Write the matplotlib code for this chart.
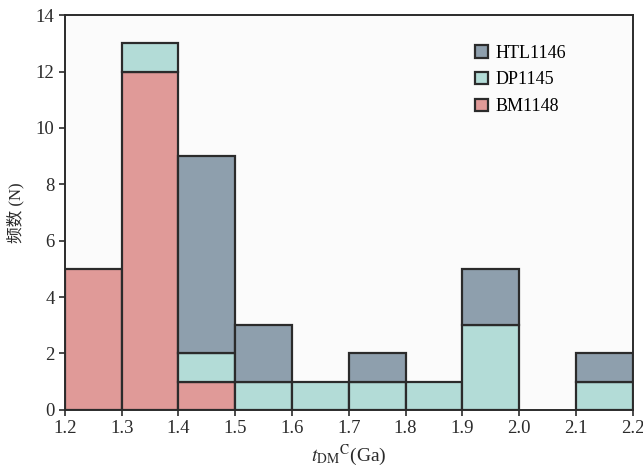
import numpy as np
import matplotlib
matplotlib.use("Agg")
import matplotlib.pyplot as plt

# Bin edges (Ga) and counts per bin for each sample
bin_edges = [1.2, 1.3, 1.4, 1.5, 1.6, 1.7, 1.8, 1.9, 2.0, 2.1, 2.2]
bm1148 = [5, 12, 1, 0, 0, 0, 0, 0, 0, 0]
dp1145 = [0, 1, 1, 1, 1, 1, 1, 3, 0, 1]
htl1146 = [0, 0, 7, 2, 0, 1, 0, 2, 0, 1]

labels = ["BM1148", "DP1145", "HTL1146"]
colors = ["#e09a98", "#b3dcd7", "#8e9fad"]
xticks = [1.2, 1.3, 1.4, 1.5, 1.6, 1.7, 1.8, 1.9, 2.0, 2.1, 2.2]
yticks = [0, 2, 4, 6, 8, 10, 12, 14]

plt.rcParams["font.family"] = ["Liberation Serif", "Noto Sans CJK SC"]
plt.rcParams["mathtext.fontset"] = "stix"

fig = plt.figure(figsize=(6.43, 4.76), dpi=100)
fig.patch.set_facecolor("white")
ax = fig.add_axes([0.101, 0.139, 0.883, 0.829])
ax.set_facecolor("#fbfbfb")

left = np.array(bin_edges[:-1])
width = np.diff(bin_edges)
bottom = np.zeros(len(left))
handles = []
for series, lab, col in zip([bm1148, dp1145, htl1146], labels, colors):
    vals = np.array(series, dtype=float)
    mask = vals > 0
    h = ax.bar(left[mask], vals[mask], width=width[mask], bottom=bottom[mask],
               align="edge", color=col, edgecolor="#2b2b2b", linewidth=1.6,
               label=lab)
    handles.append(h)
    bottom += vals

ax.set_xlim(1.2, 2.2)
ax.set_ylim(0, 14)
ax.set_xticks(xticks)
ax.set_xticklabels([f"{v:.1f}" for v in xticks])
ax.set_yticks(yticks)
for s in ax.spines.values():
    s.set_linewidth(1.4)
    s.set_color("#2b2b2b")
ax.tick_params(direction="out", length=4, width=1.2, labelsize=13.5,
               colors="#2b2b2b", top=False, right=False)

ax.set_ylabel("频数 (N)", fontsize=12, color="#2b2b2b", labelpad=8)
ax.set_xlabel(r"$t_{\rm DM}{}^{\rm C}$(Ga)", fontsize=14, color="#2b2b2b",
              labelpad=4)

leg = ax.legend(handles=handles[::-1], labels=labels[::-1], loc="upper right",
                bbox_to_anchor=(0.912, 0.967), frameon=False, fontsize=13,
                handlelength=0.7, handleheight=0.7, handletextpad=0.45,
                labelspacing=0.55)

fig.savefig("out.png", dpi=100)
